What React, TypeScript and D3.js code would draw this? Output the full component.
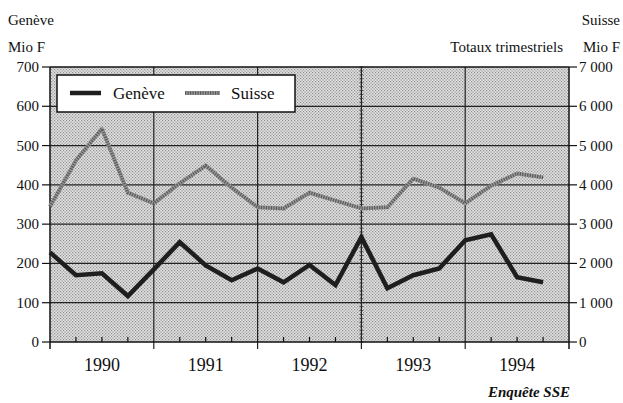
import React from "react";
import * as d3 from "d3";

const quarters = [
  "1990T1","1990T2","1990T3","1990T4",
  "1991T1","1991T2","1991T3","1991T4",
  "1992T1","1992T2","1992T3","1992T4",
  "1993T1","1993T2","1993T3","1993T4",
  "1994T1","1994T2","1994T3","1994T4",
];
const geneve = [228, 170, 175, 117, 185, 254, 195, 157, 187, 152, 196, 145, 267, 137, 170, 187, 259, 274, 165, 152];
const suisse = [3450, 4620, 5430, 3800, 3530, 4040, 4490, 3930, 3430, 3400, 3800, 3600, 3400, 3430, 4160, 3930, 3530, 3980, 4290, 4190];
const years = ["1990", "1991", "1992", "1993", "1994"];
const leftTicks = [0, 100, 200, 300, 400, 500, 600, 700];
const rightTicks = [0, 1000, 2000, 3000, 4000, 5000, 6000, 7000];
const rightLabels = ["0", "1 000", "2 000", "3 000", "4 000", "5 000", "6 000", "7 000"];

const W = 623, H = 403;
const L = 50, R = 569, T = 67, B = 342;
const FONT = "'Liberation Serif', 'Times New Roman', serif";

export default function App() {
  const x = d3.scaleLinear().domain([0, 20]).range([L, R]);
  const yL = d3.scaleLinear().domain([0, 700]).range([B, T]);
  const yR = d3.scaleLinear().domain([0, 7000]).range([B, T]);

  const lineG = d3.line<number>().x((_, i) => x(i)).y((d) => yL(d)).curve(d3.curveLinear);
  const lineS = d3.line<number>().x((_, i) => x(i)).y((d) => yR(d)).curve(d3.curveLinear);

  const minor = d3.range(0, 701, 10);

  return (
    <svg width={W} height={H} style={{ position: "absolute", left: 0, top: 0, background: "#fff" }}>
      <defs>
        <pattern id="stip" patternUnits="userSpaceOnUse" width={3} height={3}>
          <rect x={0} y={0} width={3} height={3} fill="#e2e2e2" />
          <rect x={0} y={0} width={1.2} height={1.2} fill="#8e8e8e" />
          <rect x={1.5} y={1.5} width={1.2} height={1.2} fill="#8e8e8e" />
        </pattern>
      </defs>
      <rect x={L} y={T} width={R - L} height={B - T} fill="url(#stip)" />

      {/* horizontal grid */}
      {leftTicks.slice(1, -1).map((v) => (
        <line key={"h" + v} x1={L} x2={R} y1={yL(v)} y2={yL(v)} stroke="#222" strokeWidth={1.2} />
      ))}
      {/* vertical grid at year boundaries */}
      {[4, 8, 12, 16].map((q) => (
        <line key={"v" + q} x1={x(q)} x2={x(q)} y1={T} y2={B + 7} stroke="#222" strokeWidth={1.2} />
      ))}
      {/* minor ticks on 1993 line */}
      {minor.map((v) => (
        <line key={"m" + v} x1={x(12) - 2} x2={x(12) + 2} y1={yL(v)} y2={yL(v)} stroke="#333" strokeWidth={0.8} />
      ))}

      {/* frame */}
      <line x1={L} x2={R} y1={T} y2={T} stroke="#111" strokeWidth={1.5} />
      <line x1={L} x2={R} y1={B} y2={B} stroke="#111" strokeWidth={1.5} />
      <line x1={L} x2={L} y1={T} y2={B + 7} stroke="#111" strokeWidth={1.5} />
      <line x1={R} x2={R} y1={T} y2={B + 7} stroke="#111" strokeWidth={1.5} />

      {/* quarter ticks */}
      {d3.range(1, 20).filter((q) => q % 4 !== 0).map((q) => (
        <line key={"q" + q} x1={x(q)} x2={x(q)} y1={B} y2={B - 5} stroke="#111" strokeWidth={1.2} />
      ))}

      {/* left axis */}
      {leftTicks.map((v) => (
        <g key={"l" + v}>
          <line x1={L - 8} x2={L} y1={yL(v)} y2={yL(v)} stroke="#111" strokeWidth={1.2} />
          <text x={L - 11} y={yL(v) + 5} textAnchor="end" fontFamily={FONT} fontSize={15} fill="#111">{v}</text>
        </g>
      ))}
      {/* right axis */}
      {rightTicks.map((v, i) => (
        <g key={"r" + v}>
          <line x1={R} x2={R + 8} y1={yR(v)} y2={yR(v)} stroke="#111" strokeWidth={1.2} />
          <text x={R + 10} y={yR(v) + 5} textAnchor="start" fontFamily={FONT} fontSize={15} fill="#111">{rightLabels[i]}</text>
        </g>
      ))}

      {/* year labels */}
      {years.map((yr, i) => (
        <text key={yr} x={x(i * 4 + 2)} y={371} textAnchor="middle" fontFamily={FONT} fontSize={18} fill="#111">{yr}</text>
      ))}

      {/* Suisse line */}
      <path d={lineS(suisse) || ""} fill="none" stroke="#9a9a9a" strokeWidth={4} strokeLinejoin="round" />
      <path d={lineS(suisse) || ""} fill="none" stroke="#5a5a5a" strokeWidth={3.5} strokeDasharray="1.2 1.3" />
      {/* Genève line */}
      <path d={lineG(geneve) || ""} fill="none" stroke="#1e1e1e" strokeWidth={4.5} strokeLinejoin="miter" />

      {/* legend */}
      <rect x={57} y={75} width={238} height={37} fill="#fff" stroke="#111" strokeWidth={1.5} />
      <line x1={70} x2={101} y1={93} y2={93} stroke="#1e1e1e" strokeWidth={4.5} />
      <text x={113} y={99} fontFamily={FONT} fontSize={17} fill="#111">Genève</text>
      <line x1={185} x2={220} y1={93} y2={93} stroke="#9a9a9a" strokeWidth={4} />
      <line x1={185} x2={220} y1={93} y2={93} stroke="#5a5a5a" strokeWidth={3.5} strokeDasharray="1.2 1.3" />
      <text x={231} y={99} fontFamily={FONT} fontSize={17} fill="#111">Suisse</text>

      {/* titles */}
      <text x={8} y={25} fontFamily={FONT} fontSize={15} fill="#111">Genève</text>
      <text x={8} y={52} fontFamily={FONT} fontSize={15} fill="#111">Mio F</text>
      <text x={620} y={25} textAnchor="end" fontFamily={FONT} fontSize={15} fill="#111">Suisse</text>
      <text x={620} y={52} textAnchor="end" fontFamily={FONT} fontSize={15} fill="#111">Mio F</text>
      <text x={563} y={52} textAnchor="end" fontFamily={FONT} fontSize={15} fill="#111">Totaux trimestriels</text>
      <text x={570} y={397} textAnchor="end" fontFamily={FONT} fontSize={15} fontStyle="italic" fontWeight="bold" fill="#111">Enquête SSE</text>
    </svg>
  );
}
